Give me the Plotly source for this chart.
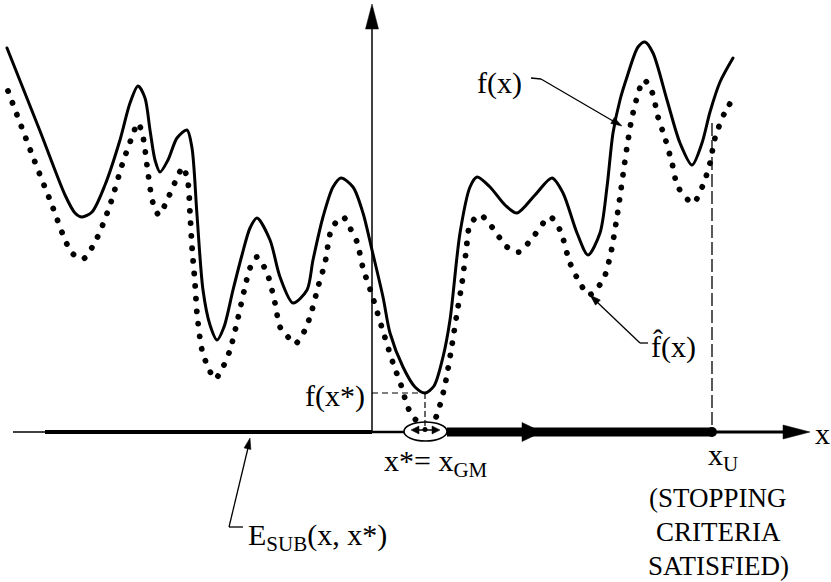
import math
import plotly.graph_objects as go

# Objective f(x): sample points (x position, height above the x axis)
F_X = [7, 40, 65, 75, 82, 92, 105, 120, 130, 138, 145, 150, 155, 160, 168, 177, 187,
       192, 197, 203, 210, 217, 224, 233, 242, 250, 257, 270, 280, 293, 307, 313, 323,
       333, 341, 353, 363, 372, 383, 390, 403, 415, 425, 434, 443, 450, 460, 470, 477,
       490, 505, 517, 535, 552, 563, 577, 588, 600, 607, 613, 620, 627, 638, 645, 653,
       667, 680, 692, 702, 710, 720, 733]
F_H = [384, 301, 237, 219, 215, 220, 247, 292, 329, 346, 334, 302, 272, 260, 272, 294, 302,
       284, 217, 142, 107, 92, 105, 142, 177, 204, 214, 192, 155, 129, 142, 172, 215,
       245, 254, 245, 219, 182, 135, 99, 65, 45, 39, 46, 75, 112, 199, 245, 255,
       245, 227, 219, 237, 254, 239, 199, 177, 199, 245, 299, 332, 355, 385, 390, 379,
       332, 289, 267, 289, 320, 350, 374]

# Underestimator f^(x)
FH_X = [8, 33, 50, 72, 83, 97, 110, 123, 132, 138, 143, 148, 153, 159, 168, 177, 183,
        188, 190, 192, 195, 197, 202, 208, 215, 223, 230, 238, 245, 250, 257, 267, 275,
        280, 288, 295, 305, 312, 318, 325, 332, 343, 350, 357, 363, 372, 382, 393, 402,
        407, 413, 424, 436, 440, 445, 452, 457, 462, 466, 470, 480, 492, 507, 519, 533,
        550, 560, 570, 580, 589, 603, 610, 617, 627, 633, 644, 652, 658, 665, 672, 678,
        693, 703, 710, 715, 725, 733]
FH_H = [341, 275, 232, 179, 173, 194, 227, 270, 295, 309, 295, 259, 229, 217, 234, 254, 265,
        249, 219, 185, 149, 119, 82, 65, 53, 65, 82, 114, 145, 164, 175, 159, 129,
        105, 95, 88, 102, 122, 145, 169, 204, 215, 204, 190, 164, 137, 104, 69, 44,
        27, 15, 7, 15, 27, 47, 87, 119, 149, 180, 207, 217, 205, 185, 180, 195,
        215, 202, 169, 149, 137, 152, 175, 215, 285, 319, 352, 340, 315, 294, 269, 245,
        229, 247, 269, 294, 320, 333]

# Note lines under x_U
STOP_NOTE = ["(STOPPING", "CRITERIA", "SATISFIED)"]

# Scene geometry
Y_AXIS_X = 372
Y_AXIS_TIP = 428
X_AXIS_LEFT = 13
X_AXIS_TIP = 810
X_U = 712
X_U_TOP = 309

i_min = F_H.index(min(F_H))
X_STAR, F_STAR = F_X[i_min], F_H[i_min]

FONT = "Liberation Serif, Times New Roman, serif"
INK = "black"


def arrow_path(tip, tail, length, half):
    dx, dy = tip[0] - tail[0], tip[1] - tail[1]
    n = math.hypot(dx, dy)
    ux, uy = dx / n, dy / n
    bx, by = tip[0] - ux * length, tip[1] - uy * length
    px, py = -uy * half, ux * half
    return (f"M{tip[0]},{tip[1]} L{bx + px:.2f},{by + py:.2f} "
            f"L{bx - px:.2f},{by - py:.2f} Z")


def seg(x0, y0, x1, y1, width, dash="solid"):
    return dict(type="line", xref="x", yref="y", x0=x0, y0=y0, x1=x1, y1=y1,
                line=dict(color=INK, width=width, dash=dash), layer="above")


def head(tip, tail, length, half):
    return dict(type="path", xref="x", yref="y", path=arrow_path(tip, tail, length, half),
                fillcolor=INK, line=dict(color=INK, width=0.5), layer="above")


fig = go.Figure()
fig.add_trace(go.Scatter(x=F_X, y=F_H, mode="lines",
                         line=dict(color=INK, width=3, shape="spline", smoothing=0.8),
                         hoverinfo="skip"))
fig.add_trace(go.Scatter(x=FH_X, y=FH_H, mode="lines",
                         line=dict(color=INK, width=5.8, shape="spline", smoothing=0.8,
                                   dash="0.1px,12.5px"),
                         hoverinfo="skip"))

shapes = []
# x axis with its segments of varying weight
shapes.append(seg(X_AXIS_LEFT, 0, 45, 0, 1.5))
shapes.append(seg(45, 0, Y_AXIS_X, 0, 4))
shapes.append(seg(Y_AXIS_X, 0, X_STAR - 21, 0, 2.5))
shapes.append(seg(X_STAR + 22, 0, X_U, 0, 9))
shapes.append(seg(X_U, 0, X_AXIS_TIP - 24, 0, 3))
shapes.append(head((X_AXIS_TIP, 0), (0, 0), 27, 7))
shapes.append(head((542, 0), (0, 0), 20, 9.5))
shapes.append(dict(type="circle", xref="x", yref="y", x0=X_U - 5, x1=X_U + 5, y0=-5, y1=5,
                   fillcolor=INK, line=dict(color=INK, width=0), layer="above"))
# y axis
shapes.append(seg(Y_AXIS_X, 0, Y_AXIS_X, Y_AXIS_TIP - 24, 1.5))
shapes.append(head((Y_AXIS_X, Y_AXIS_TIP), (Y_AXIS_X, 0), 25, 6.5))
# neighbourhood of x* : ellipse with a two-way arrow
shapes.append(dict(type="circle", xref="x", yref="y", x0=X_STAR - 21, x1=X_STAR + 22,
                   y0=-9, y1=10, fillcolor="white", line=dict(color=INK, width=1.6),
                   layer="above"))
shapes.append(seg(X_STAR - 8, 2, X_STAR + 8, 2, 1.5))
shapes.append(head((X_STAR - 14, 2), (X_STAR, 2), 8, 4))
shapes.append(head((X_STAR + 15, 2), (X_STAR, 2), 8, 4))
shapes.append(dict(type="circle", xref="x", yref="y", x0=X_STAR - 2.5, x1=X_STAR + 2.5,
                   y0=0, y1=5, fillcolor=INK, line=dict(color=INK, width=0), layer="above"))
# guide lines to f(x*) and x_U
shapes.append(seg(Y_AXIS_X, F_STAR, X_STAR, F_STAR, 1.2, "6px,4px"))
shapes.append(seg(X_STAR, F_STAR, X_STAR, 5, 1.2, "6px,3px"))
shapes.append(seg(X_U, X_U_TOP, X_U, 0, 1.3, "13px,4px"))
# leader for f(x)
shapes.append(seg(531, 354, 541, 353, 1.3))
shapes.append(seg(541, 353, 613, 311, 1.3))
shapes.append(head((622, 306), (541, 353), 11, 3.5))
# leader for f^(x)
shapes.append(seg(648, 89, 640, 89, 1.3))
shapes.append(seg(640, 89, 597, 130, 1.3))
shapes.append(head((590, 137), (640, 89), 11, 3.5))
# leader for E_SUB
shapes.append(seg(243, -95, 229, -95, 1.3))
shapes.append(seg(229, -95, 248, -16, 1.3))
shapes.append(head((250, -6), (229, -95), 11, 3.5))

annotations = []


def label(text, x, y, size=30, xanchor="center", yanchor="middle"):
    annotations.append(dict(text=text, x=x, y=y, xref="x", yref="y", showarrow=False,
                            xanchor=xanchor, yanchor=yanchor,
                            font=dict(family=FONT, size=size, color=INK)))


label("f(x)", 499, 349)
label("f(x*)", 367, 36, xanchor="right")
label("f\u0302(x)", 649, 86, xanchor="left")
label("x*= x<sub>GM</sub>", 382, -31, xanchor="left")
label("x<sub>U</sub>", 706, -25, xanchor="left")
for k, line in enumerate(STOP_NOTE):
    label(line, 718, -66 - 34 * k, size=27)
label("E<sub>SUB</sub>(x, x*)", 246, -105, xanchor="left")
label("x", 813, -1, xanchor="left")

fig.update_layout(
    width=831, height=582, margin=dict(l=0, r=0, t=0, b=0),
    paper_bgcolor="white", plot_bgcolor="white", showlegend=False,
    xaxis=dict(range=[0, 831], visible=False, fixedrange=True),
    yaxis=dict(range=[-150, 432], visible=False, fixedrange=True),
    shapes=shapes, annotations=annotations,
)

# round line caps turn the sparse dash pattern into round dots
ROUND_CAPS = ("document.querySelectorAll('.scatterlayer path.js-line')"
              ".forEach(function(p){p.style.strokeLinecap='round';});")

fig.write_html("out.html", post_script=ROUND_CAPS, config={"displayModeBar": False})
